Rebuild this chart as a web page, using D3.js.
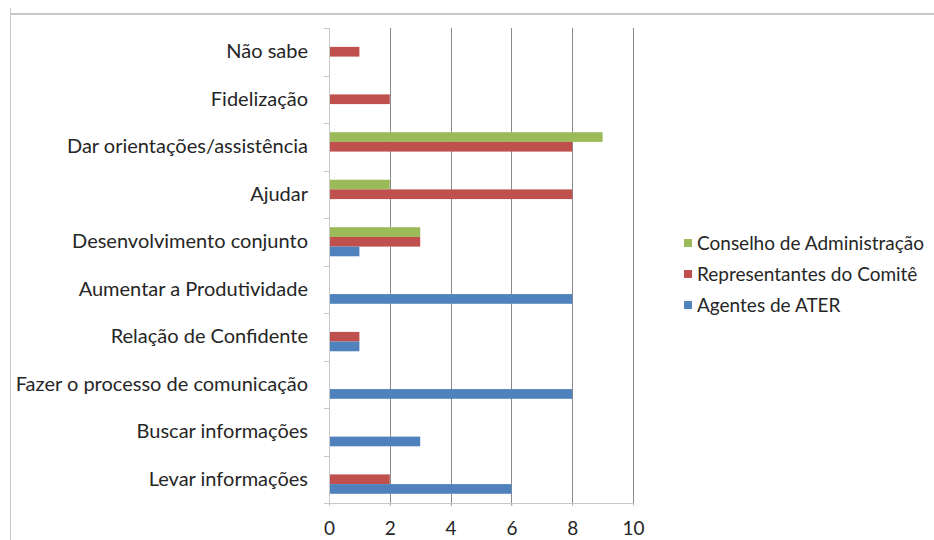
<!DOCTYPE html>
<html>
<head>
<meta charset="utf-8">
<script src="https://cdn.jsdelivr.net/npm/d3@7"></script>
<style>
  body { margin: 0; background: #fff; }
  text { font-family: Lato, "Open Sans", sans-serif; fill: #262626; }
</style>
</head>
<body>
<div id="svg-area"></div>
<script>
var svgWidth = 934;
var svgHeight = 540;

// categories, top to bottom as drawn
var categories = ["Não sabe", "Fidelização", "Dar orientações/assistência", "Ajudar",
  "Desenvolvimento conjunto", "Aumentar a Produtividade", "Relação de Confidente",
  "Fazer o processo de comunicação", "Buscar informações", "Levar informações"];

// series values, same order as categories
var conselho = [0, 0, 9, 2, 3, 0, 0, 0, 0, 0];
var representantes = [1, 2, 8, 8, 3, 0, 1, 0, 0, 2];
var agentes = [0, 0, 0, 0, 1, 8, 1, 8, 3, 6];

var seriesNames = ["Conselho de Administração", "Representantes do Comitê", "Agentes de ATER"];
var seriesColors = ["#9bbb59", "#c0504d", "#4f81bd"];
var xTicks = [0, 2, 4, 6, 8, 10];

var seriesValues = [conselho, representantes, agentes];

var svg = d3.select("#svg-area")
  .append("svg")
  .attr("width", svgWidth)
  .attr("height", svgHeight);

// outer frame (top and left edge)
svg.append("line")
  .attr("x1", 10).attr("x2", svgWidth)
  .attr("y1", 14).attr("y2", 14)
  .attr("stroke", "#c8c8c8").attr("stroke-width", 2);
svg.append("line")
  .attr("x1", 10.5).attr("x2", 10.5)
  .attr("y1", 8).attr("y2", svgHeight)
  .attr("stroke", "#c8c8c8").attr("stroke-width", 1);

var plotLeft = 329, plotRight = 633, plotTop = 28, plotBottom = 503;

var xScale = d3.scaleLinear()
  .domain([0, 10])
  .range([plotLeft, plotRight]);

var yScale = d3.scaleBand()
  .domain(categories)
  .range([plotTop, plotBottom]);

var ySub = d3.scaleBand()
  .domain(seriesNames)
  .range([0, yScale.bandwidth()])
  .paddingInner(0)
  .paddingOuter(0.95);

// gridlines
svg.append("g")
  .selectAll("line")
  .data(xTicks.filter(d => d > 0))
  .join("line")
  .attr("x1", d => Math.round(xScale(d)) + 0.5)
  .attr("x2", d => Math.round(xScale(d)) + 0.5)
  .attr("y1", plotTop)
  .attr("y2", plotBottom + 3)
  .attr("stroke", "#8a8a8a");

// bars
var rows = [];
seriesNames.forEach(function(name, i) {
  categories.forEach(function(cat, j) {
    rows.push({series: name, color: seriesColors[i], cat: cat, value: seriesValues[i][j]});
  });
});

svg.append("g")
  .selectAll("rect")
  .data(rows.filter(d => d.value > 0))
  .join("rect")
  .attr("x", xScale(0))
  .attr("y", d => yScale(d.cat) + ySub(d.series))
  .attr("width", d => xScale(d.value) - xScale(0))
  .attr("height", ySub.bandwidth())
  .attr("fill", d => d.color);

// left axis line and boundary ticks
svg.append("line")
  .attr("x1", plotLeft + 0.5).attr("x2", plotLeft + 0.5)
  .attr("y1", plotTop).attr("y2", plotBottom)
  .attr("stroke", "#c8c8c8");
svg.append("g")
  .selectAll("line")
  .data(categories.concat(["end"]))
  .join("line")
  .attr("x1", plotLeft - 5).attr("x2", plotLeft)
  .attr("y1", (d, i) => Math.round(plotTop + i * yScale.step()) + 0.5)
  .attr("y2", (d, i) => Math.round(plotTop + i * yScale.step()) + 0.5)
  .attr("stroke", "#c8c8c8");

// category labels
var yAxis = svg.append("g")
  .attr("transform", "translate(" + plotLeft + ",0)")
  .call(d3.axisLeft(yScale).tickSize(0).tickPadding(21));
yAxis.select(".domain").remove();
yAxis.selectAll("text")
  .style("font-family", "Lato, 'Open Sans', sans-serif")
  .style("font-size", "20px")
  .attr("fill", "#262626");

// bottom axis
var xAxis = svg.append("g")
  .attr("transform", "translate(0," + plotBottom + ")")
  .call(d3.axisBottom(xScale).tickValues(xTicks).tickSize(3).tickPadding(16));
xAxis.select(".domain").attr("stroke", "#c8c8c8");
xAxis.selectAll(".tick line").attr("stroke", "#c8c8c8");
xAxis.selectAll("text")
  .style("font-family", "Lato, 'Open Sans', sans-serif")
  .style("font-size", "19px")
  .attr("fill", "#262626");

// legend
var legend = svg.append("g")
  .selectAll("g")
  .data(seriesNames)
  .join("g")
  .attr("transform", (d, i) => "translate(684," + (243 + i * 31) + ")");
legend.append("rect")
  .attr("x", 0).attr("y", -4)
  .attr("width", 8).attr("height", 8)
  .attr("fill", (d, i) => seriesColors[i]);
legend.append("text")
  .attr("x", 13)
  .attr("dy", "0.35em")
  .style("font-size", "19px")
  .text(d => d);
</script>
</body>
</html>
